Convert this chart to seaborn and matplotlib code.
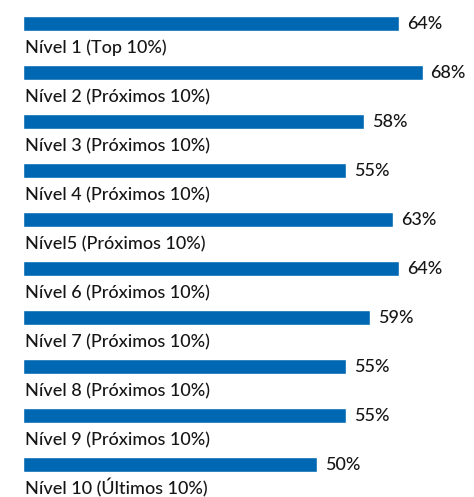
import pandas as pd
import seaborn as sns
import matplotlib.pyplot as plt

levels = ["Nível 1 (Top 10%)", "Nível 2 (Próximos 10%)", "Nível 3 (Próximos 10%)",
          "Nível 4 (Próximos 10%)", "Nível5 (Próximos 10%)", "Nível 6 (Próximos 10%)",
          "Nível 7 (Próximos 10%)", "Nível 8 (Próximos 10%)", "Nível 9 (Próximos 10%)",
          "Nível 10 (Últimos 10%)"]
values = [64, 68, 58, 55, 63, 64, 59, 55, 55, 50]

sns.set_theme(style="white")
plt.rcParams['font.family'] = ['Lato', 'DejaVu Sans']

df = pd.DataFrame({'level': levels, 'value': values})

fig = plt.figure(figsize=(4.74, 4.97), dpi=100)
ax = fig.add_axes([23 / 474, 0, 1 - 23 / 474, 1])

sns.barplot(x='value', y='level', data=df, orient='h', color='#0068b3',
            saturation=1, width=0.31, ax=ax)

for i, (lab, v) in enumerate(zip(levels, values)):
    ax.text(0.3, i + 0.61, lab, va='baseline', ha='left', fontsize=13,
            color='#161616', fontweight='medium')
    ax.text(v + 1.3, i, f"{v}%", va='center', ha='left', fontsize=13,
            color='#161616', fontweight='medium')

ax.set_xlim(0, 451 / 5.88)
ax.set_ylim(9.663, -0.48)
ax.set_axis_off()

fig.savefig('out.png', dpi=100)
